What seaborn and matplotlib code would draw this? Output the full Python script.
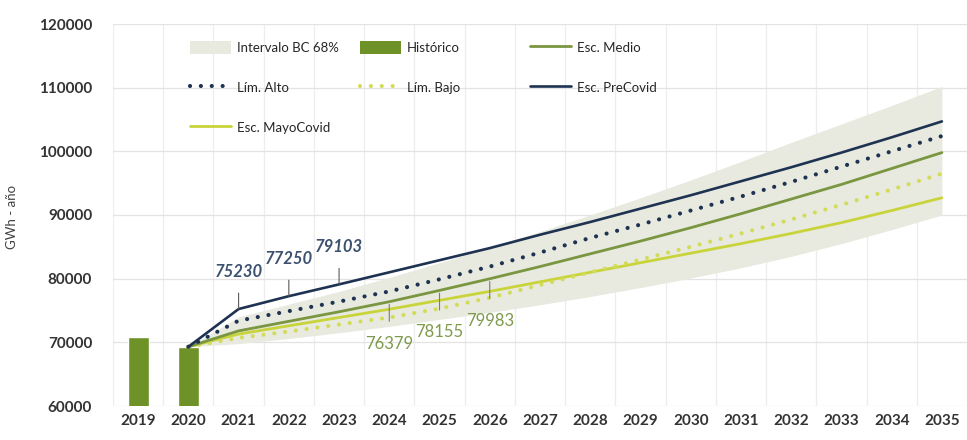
import numpy as np
import pandas as pd
import matplotlib
matplotlib.use("Agg")
import matplotlib.pyplot as plt
from matplotlib.patches import Patch
from matplotlib.lines import Line2D
import seaborn as sns

# Years on the category axis
years = list(range(2019, 2036))

# Historical demand (GWh-año)
hist_years = [2019, 2020]
historico = [70800, 69300]

# Projection scenarios, 2020-2035
proj_years = list(range(2020, 2036))
esc_precovid = [69300, 75230, 77250, 79103, 81000, 82900, 84800, 86900,
                88900, 91000, 93100, 95300, 97500, 99800, 102200, 104700]
lim_alto = [69300, 73400, 74900, 76400, 78000, 79900, 81900, 84100,
            86400, 88500, 90700, 92900, 95200, 97600, 100000, 102400]
esc_medio = [69300, 71800, 73300, 74800, 76379, 78155, 79983, 81900,
             83900, 85900, 88000, 90200, 92500, 94800, 97300, 99800]
lim_bajo = [69300, 70700, 71700, 72800, 73900, 75300, 77000, 79000,
            81000, 83000, 85000, 87100, 89300, 91600, 94000, 96500]
esc_mayocovid = [69300, 71300, 72600, 73900, 75200, 76600, 78000, 79500,
                 81000, 82500, 84000, 85500, 87100, 88800, 90700, 92700]

# 68% confidence band
banda_sup = [69300, 74000, 76000, 78000, 80200, 82500, 84900, 87400,
             90000, 92700, 95500, 98400, 101400, 104300, 107200, 110200]
banda_inf = [69300, 69800, 70600, 71500, 72500, 73600, 74700, 75900,
             77200, 78600, 80100, 81700, 83500, 85500, 87700, 90000]

# Value labels
precovid_lbl_years = [2021, 2022, 2023]
medio_lbl_years = [2024, 2025, 2026]

C_BAND = "#E8EADF"
C_HIST = "#6E9128"
C_MEDIO = "#7A9640"
C_NAVY = "#1E3252"
C_BAJO = "#D3DC5A"
C_MAYO = "#C8D43A"
C_NAVY_LBL = "#3C5170"
C_GREEN_LBL = "#7F9A4C"

sns.set_theme(style="white")
plt.rcParams["font.family"] = ["Lato", "DejaVu Sans"]

W, H = 967, 440
fig = plt.figure(figsize=(W / 100, H / 100), dpi=100)
ax = fig.add_axes([113 / W, (H - 406) / H, (W - 113) / W, (406 - 24) / H])

pos = lambda ys: [y - years[0] for y in ys]

proj = pd.DataFrame({
    "x": pos(proj_years),
    "precovid": esc_precovid,
    "alto": lim_alto,
    "medio": esc_medio,
    "bajo": lim_bajo,
    "mayo": esc_mayocovid,
    "sup": banda_sup,
    "inf": banda_inf,
})
hist = pd.DataFrame({"x": pos(hist_years), "v": historico})

# Confidence band
ax.fill_between(proj["x"], proj["inf"], proj["sup"], color=C_BAND, lw=0, zorder=1)

# Historical bars
sns.barplot(data=hist, x="x", y="v", native_scale=True, width=0.42,
            color=C_HIST, saturation=1, ax=ax, zorder=2)

dot = (0, (0.01, 2.6))
sns.lineplot(data=proj, x="x", y="mayo", ax=ax, color=C_MAYO, lw=2.0, zorder=3)
sns.lineplot(data=proj, x="x", y="bajo", ax=ax, color=C_BAJO, lw=3.0,
             linestyle=dot, dash_capstyle="round", zorder=3)
sns.lineplot(data=proj, x="x", y="medio", ax=ax, color=C_MEDIO, lw=2.0, zorder=4)
sns.lineplot(data=proj, x="x", y="alto", ax=ax, color=C_NAVY, lw=3.0,
             linestyle=dot, dash_capstyle="round", zorder=4)
sns.lineplot(data=proj, x="x", y="precovid", ax=ax, color=C_NAVY, lw=1.9, zorder=5)

# Axes, ticks and grid
ax.set_xlim(-0.5, -0.5 + (W - 113) / 50.6)
ax.set_ylim(60000, 120000)
ax.set_yticks(np.arange(60000, 120001, 10000))
ax.set_xticks(range(len(years)))
ax.set_xticklabels([str(y) for y in years])
ax.set_xticks(np.arange(-0.5, len(years), 1), minor=True)
ax.grid(False)
ax.grid(True, axis="y", which="major", color="#E3E3E3", lw=0.9, zorder=0)
ax.grid(True, axis="x", which="minor", color="#EDEDED", lw=0.9, zorder=0)
ax.set_axisbelow(True)
for s in ax.spines.values():
    s.set_visible(False)
ax.tick_params(axis="both", which="both", length=0)
ax.tick_params(axis="x", pad=6)
ax.tick_params(axis="y", pad=15)
for lab in ax.get_xticklabels() + ax.get_yticklabels():
    lab.set_fontsize(11)
    lab.set_fontweight("bold")
    lab.set_color("#333333")
ax.set_xlabel("")
ax.set_ylabel("GWh - año", fontsize=9.5, color="#404040")
ax.yaxis.set_label_coords(-0.111, 0.495)

# Value labels with leader lines
for yr in precovid_lbl_years:
    v = esc_precovid[proj_years.index(yr)]
    ax.annotate(f"{v}", xy=(yr - years[0], v), xytext=(0, 37),
                textcoords="offset pixels", ha="center", va="center",
                fontsize=12, fontstyle="italic", fontweight="bold",
                color=C_NAVY_LBL,
                arrowprops=dict(arrowstyle="-", color="#5A5A5A", lw=0.8,
                                shrinkA=7, shrinkB=0), zorder=6)
for yr in medio_lbl_years:
    v = esc_medio[proj_years.index(yr)]
    ax.annotate(f"{v}", xy=(yr - years[0], v), xytext=(0, -42),
                textcoords="offset pixels", ha="center", va="center",
                fontsize=12, color=C_GREEN_LBL,
                arrowprops=dict(arrowstyle="-", color="#7A7A7A", lw=0.8,
                                shrinkA=8, shrinkB=2), zorder=6)

# Legend, three columns laid out row by row
h_band = Patch(facecolor=C_BAND, edgecolor="none")
h_hist = Patch(facecolor=C_HIST, edgecolor="none")
h_medio = Line2D([], [], color=C_MEDIO, lw=2.0)
h_alto = Line2D([], [], color=C_NAVY, lw=3.0, linestyle=dot, dash_capstyle="round")
h_bajo = Line2D([], [], color=C_BAJO, lw=3.0, linestyle=dot, dash_capstyle="round")
h_pre = Line2D([], [], color=C_NAVY, lw=1.9)
h_mayo = Line2D([], [], color=C_MAYO, lw=2.0)

columns = [
    ([h_band, h_alto, h_mayo], ["Intervalo BC 68%", "Lím. Alto", "Esc. MayoCovid"], 190),
    ([h_hist, h_bajo], ["Histórico", "Lím. Bajo"], 360),
    ([h_medio, h_pre], ["Esc. Medio", "Esc. PreCovid"], 530),
]
legends = []
for handles, labels, x0 in columns:
    leg = ax.legend(handles, labels, loc="upper left",
                    bbox_to_anchor=(x0 / W, 1 - 41 / H),
                    bbox_transform=fig.transFigure, frameon=False,
                    fontsize=9.5, handlelength=3.1, handleheight=1.1,
                    handletextpad=0.45, labelspacing=2.05,
                    borderpad=0, borderaxespad=0)
    for t in leg.get_texts():
        t.set_color("#262626")
    legends.append(leg)
for leg in legends[:-1]:
    ax.add_artist(leg)

fig.savefig("out.png", dpi=100, facecolor="white")
